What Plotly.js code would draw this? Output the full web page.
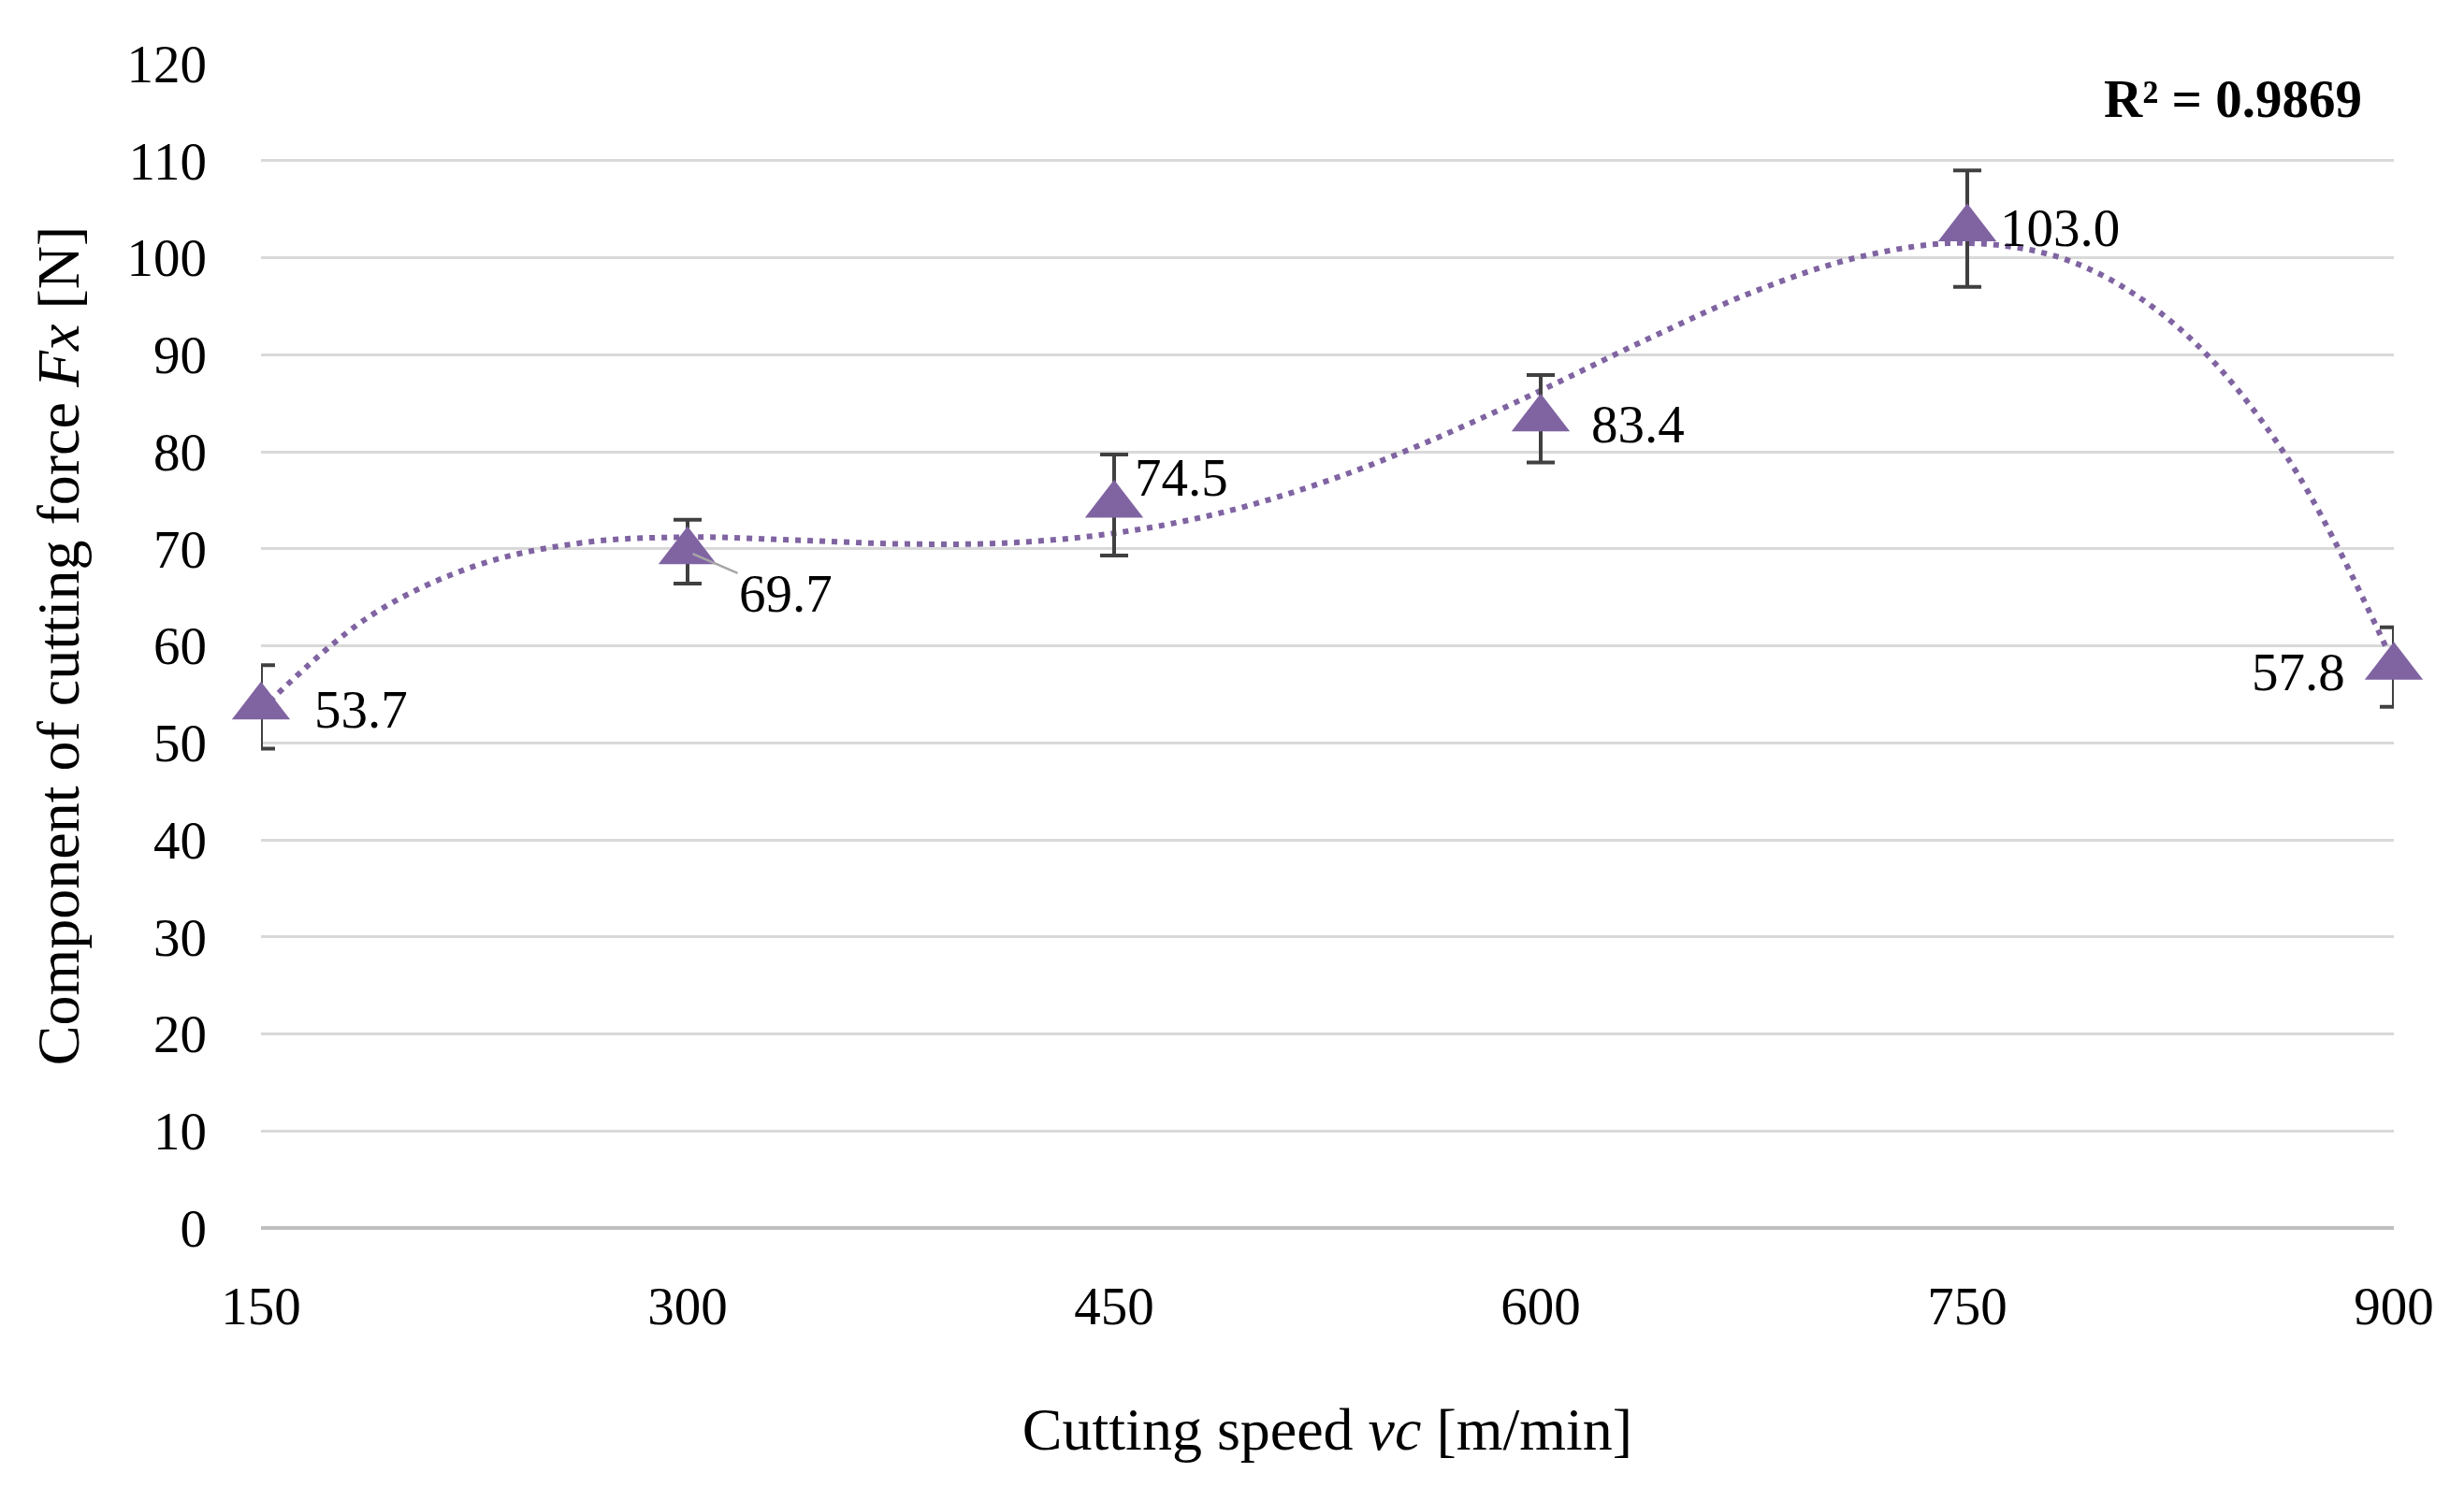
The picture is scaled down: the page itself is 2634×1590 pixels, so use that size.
<!DOCTYPE html>
<html>
<head>
<meta charset="utf-8">
<script src="https://cdn.plot.ly/plotly-3.0.1.min.js"></script>
<style>html,body{margin:0;padding:0;background:#fff;}#chart{width:2634px;height:1590px;}</style>
</head>
<body>
<div id="chart"></div>
<script>
// Measured data (cutting speed vs Fx)
var speeds = [150, 300, 450, 600, 750, 900];
var forceFx = [53.7, 69.7, 74.5, 83.4, 103.0, 57.8];
var errFx = [4.3, 3.3, 5.2, 4.5, 6.0, 4.1];
var labels = ['53.7', '69.7', '74.5', '83.4', '103.0', '57.8'];

// Dotted polynomial trend line
var trendX = [150, 187.5, 225, 262.5, 300, 337.5, 375, 412.5, 450, 487.5, 525, 562.5, 600, 637.5, 675, 712.5, 750, 787.5, 825, 862.5, 900];
var trendY = [53.4, 62.9, 68.2, 70.6, 71.2, 70.9, 70.5, 70.6, 71.6, 73.7, 77.0, 81.3, 86.3, 91.6, 96.5, 100.1, 101.5, 99.5, 92.6, 79.4, 58.1];
var r2Text = 'R² = 0.9869';

var tickVals = [150, 300, 450, 600, 750, 900];
var yTicks = [0, 10, 20, 30, 40, 50, 60, 70, 80, 90, 100, 110, 120];

var purple = '#8064a2';
var font = 'Liberation Serif, Times New Roman, serif';

var traces = [
  {
    x: trendX, y: trendY, type: 'scatter', mode: 'lines',
    line: {color: purple, width: 6, dash: '6px,7px', shape: 'spline'},
    hoverinfo: 'skip', cliponaxis: false, showlegend: false
  },
  {
    x: speeds, y: forceFx, type: 'scatter', mode: 'markers',
    marker: {symbol: 'triangle-up', size: 54, color: purple},
    error_y: {type: 'data', array: errFx, visible: true, color: '#404040', thickness: 4, width: 15},
    cliponaxis: false, showlegend: false
  }
];

// label offsets (layout only)
var lab = [
  {xanchor: 'left', xshift: 55, yshift: -3},
  {arrow: true, ax: 105, ay: 45},
  {xanchor: 'left', xshift: 20, yshift: 30},
  {xanchor: 'left', xshift: 52, yshift: -6},
  {xanchor: 'left', xshift: 33, yshift: 1},
  {xanchor: 'right', xshift: -50, yshift: -5}
];
var annotations = speeds.map(function (s, i) {
  var o = lab[i];
  var a = {x: s, y: forceFx[i], xref: 'x', yref: 'y', text: labels[i],
    font: {family: font, size: 57, color: '#000'}};
  if (o.arrow) {
    a.showarrow = true; a.ax = o.ax; a.ay = o.ay; a.arrowhead = 0;
    a.arrowcolor = '#a6a6a6'; a.arrowwidth = 2.5; a.standoff = 6;
  } else {
    a.showarrow = false; a.xanchor = o.xanchor; a.yanchor = 'middle';
    a.xshift = o.xshift; a.yshift = o.yshift;
  }
  return a;
});
annotations.push({
  xref: 'paper', yref: 'paper', x: 0.986, y: 0.97, xanchor: 'right', yanchor: 'middle',
  text: '<b>' + r2Text + '</b>', showarrow: false,
  font: {family: font, size: 57, color: '#000'}
});

var layout = {
  width: 2634, height: 1590,
  margin: {l: 279, r: 75, t: 68, b: 277},
  paper_bgcolor: '#fff', plot_bgcolor: '#fff',
  font: {family: font, size: 57, color: '#000'},
  xaxis: {
    type: 'linear', range: [150, 900], tickvals: tickVals, ticktext: tickVals.map(String),
    showgrid: false, zeroline: false, showline: false, ticks: '',
    ticklabelstandoff: 45,
    tickfont: {family: font, size: 57, color: '#000'},
    title: {text: 'Cutting speed <i>vc</i> [m/min]', font: {family: font, size: 64, color: '#000'}, standoff: 78},
    automargin: false, fixedrange: true
  },
  yaxis: {
    range: [0, 120], tickvals: yTicks, ticktext: yTicks.map(String),
    showgrid: true, gridcolor: '#d9d9d9', gridwidth: 3,
    zeroline: true, zerolinecolor: '#bfbfbf', zerolinewidth: 3.5,
    showline: false, ticks: '', ticklabelstandoff: 57,
    tickfont: {family: font, size: 57, color: '#000'},
    title: {text: 'Component of cutting force <i>Fx</i> [N]', font: {family: font, size: 64, color: '#000'}, standoff: 30},
    automargin: false, fixedrange: true
  },
  annotations: annotations,
  showlegend: false
};

Plotly.newPlot('chart', traces, layout, {displayModeBar: false, staticPlot: true});
</script>
</body>
</html>
